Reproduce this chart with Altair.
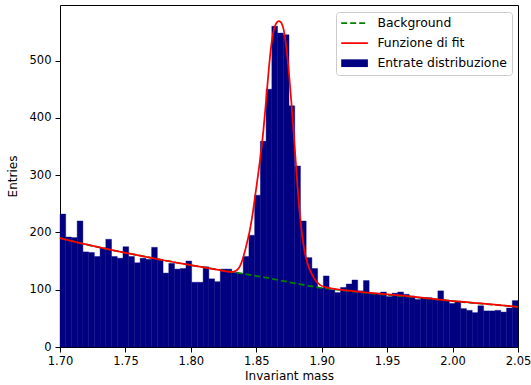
import altair as alt
import pandas as pd

# Histogram: 80 equal bins between 1.70 and 2.05
bin_lo = 1.70
bin_hi = 2.05
counts = [
    232, 192, 191, 220, 166, 165, 158, 173, 188, 158,
    155, 175, 158, 147, 155, 153, 174, 153, 129, 146,
    136, 137, 150, 113, 113, 140, 119, 114, 136, 136,
    130, 128, 158, 195, 265, 359, 450, 560, 548, 545,
    421, 316, 220, 156, 137, 103, 124, 100, 95, 104,
    110, 117, 98, 116, 93, 94, 96, 88, 94, 96,
    92, 89, 83, 86, 86, 83, 98, 82, 76, 80,
    67, 64, 60, 72, 63, 63, 64, 61, 68, 81,
]

# Background component of the fit
bg_x = [1.70, 1.72, 1.74, 1.76, 1.78, 1.80, 1.82, 1.84, 1.86, 1.88,
        1.90, 1.92, 1.94, 1.96, 1.98, 2.00, 2.02, 2.05]
bg_y = [190, 179, 169, 160, 151, 143, 135, 128, 120, 111,
        103, 98, 93, 89, 85, 80, 76, 70]

# Full fit function (background + peak)
fit_x = [1.700, 1.720, 1.740, 1.760, 1.780, 1.800, 1.820, 1.832, 1.8364, 1.8394,
         1.8428, 1.8450, 1.8467, 1.8489, 1.8522, 1.8553, 1.8571, 1.8587, 1.8612, 1.8636,
         1.8655, 1.8673, 1.8691, 1.8706, 1.8727, 1.8752, 1.8770, 1.8788, 1.8801, 1.8821,
         1.8840, 1.8865, 1.8890, 1.8936, 1.8988, 1.9039, 1.9140, 1.9350, 1.9600, 1.9850,
         2.0060, 2.0300, 2.0500]
fit_y = [190, 179, 169, 160, 151, 143, 135, 131, 137, 152,
         181, 203, 225, 260, 315, 375, 420, 462, 522, 555,
         566, 569, 566, 557, 528, 472, 422, 366, 325, 262,
         215, 172, 147, 122, 108, 104, 100, 95, 90, 84,
         79, 74.6, 70]

labels = ["Background", "Funzione di fit", "Entrate distribuzione"]
colors = ["#008000", "#ff0000", "#000080"]
x_ticks = [1.70, 1.75, 1.80, 1.85, 1.90, 1.95, 2.00, 2.05]
y_ticks = [0, 100, 200, 300, 400, 500]

n_bins = len(counts)
step = (bin_hi - bin_lo) / n_bins
hist = pd.DataFrame({
    "lo": [bin_lo + i * step for i in range(n_bins)],
    "hi": [bin_lo + (i + 1) * step for i in range(n_bins)],
    "n": counts,
    "series": labels[2],
})
bg = pd.DataFrame({"m": bg_x, "v": bg_y, "series": labels[0]})
fit = pd.DataFrame({"m": fit_x, "v": fit_y, "series": labels[1]})

xs = alt.Scale(domain=[bin_lo, bin_hi], nice=False, zero=False)
ys = alt.Scale(domain=[0, 597], nice=False)

# Per-entry legend glyphs: dashed line, solid line, filled patch
symbol_encoding = {
    "symbols": {
        "update": {
            "shape": {"signal": "datum.value === 'Entrate distribuzione' ? 'M-1.2,-0.77H4.14V0.77H-1.2Z' : 'M-1.2,0H4.14'"},
            "fill": {"signal": "datum.value === 'Entrate distribuzione' ? '#000080' : 'transparent'"},
            "stroke": {"signal": "datum.value === 'Background' ? '#008000' : (datum.value === 'Funzione di fit' ? '#ff0000' : '#000080')"},
            "strokeDash": {"signal": "datum.value === 'Background' ? [6, 3] : [1, 0]"},
            "strokeWidth": {"signal": "datum.value === 'Entrate distribuzione' ? 0 : 1.75"},
            "opacity": {"value": 1},
        }
    }
}


class HistLayer(alt.LayerChart):
    """Layer chart whose colour legend carries custom symbol encodings."""

    def to_dict(self, *args, **kwargs):
        spec = super().to_dict(*args, **kwargs)
        for lyr in spec.get("layer", []):
            leg = lyr.get("encoding", {}).get("color", {}).get("legend")
            if isinstance(leg, dict):
                leg["encode"] = symbol_encoding
        return spec


legend = alt.Legend(
    title=None,
    orient="top-right",
    offset=6.5,
    fillColor="rgba(255,255,255,0.8)",
    strokeColor="#cccccc",
    cornerRadius=3,
    padding=5,
    rowPadding=7,
    symbolSize=100,
    symbolStrokeWidth=0,
    labelOffset=24,
    labelFont="DejaVu Sans",
    labelFontSize=12.4,
    labelColor="#000000",
    labelLimit=300,
)

color = alt.Color(
    "series:N",
    scale=alt.Scale(domain=labels, range=colors),
    legend=legend,
)

bars = alt.Chart(hist).mark_rect(strokeWidth=0.4).encode(
    x=alt.X("lo:Q", scale=xs,
            axis=alt.Axis(values=x_ticks, format=".2f", title="Invariant mass")),
    x2="hi:Q",
    y=alt.Y("n:Q", scale=ys, axis=alt.Axis(values=y_ticks, title="Entries")),
    y2=alt.datum(0),
    color=color,
    stroke=alt.value("#000080"),
)

bg_line = alt.Chart(bg).mark_line(strokeDash=[6, 3], strokeWidth=1.75,
                                  interpolate="monotone").encode(
    x=alt.X("m:Q", scale=xs),
    y=alt.Y("v:Q", scale=ys),
    color=color,
)

fit_line = alt.Chart(fit).mark_line(strokeWidth=1.75, interpolate="monotone").encode(
    x=alt.X("m:Q", scale=xs),
    y=alt.Y("v:Q", scale=ys),
    color=color,
)

chart = HistLayer(layer=[bars, bg_line, fit_line]).properties(
    width=458,
    height=342,
    autosize=alt.AutoSizeParams(type="none"),
    padding={"left": 60, "top": 5, "right": 13, "bottom": 38},
    background="white",
).configure_view(
    stroke="#000000", strokeWidth=1
).configure_axis(
    grid=False,
    domain=False,
    ticks=True,
    tickColor="#000000",
    tickSize=5,
    tickWidth=1,
    labelFont="DejaVu Sans",
    labelFontSize=11.5,
    labelColor="#000000",
    titleFont="DejaVu Sans",
    titleFontSize=12,
    titleFontWeight="normal",
    titleColor="#000000",
).configure_axisX(
    labelPadding=3,
    titlePadding=4,
    labelFlush=False,
).configure_axisY(
    labelPadding=4,
    titlePadding=10,
)

chart.save("out.html", embed_options={"renderer": "svg", "actions": False})
